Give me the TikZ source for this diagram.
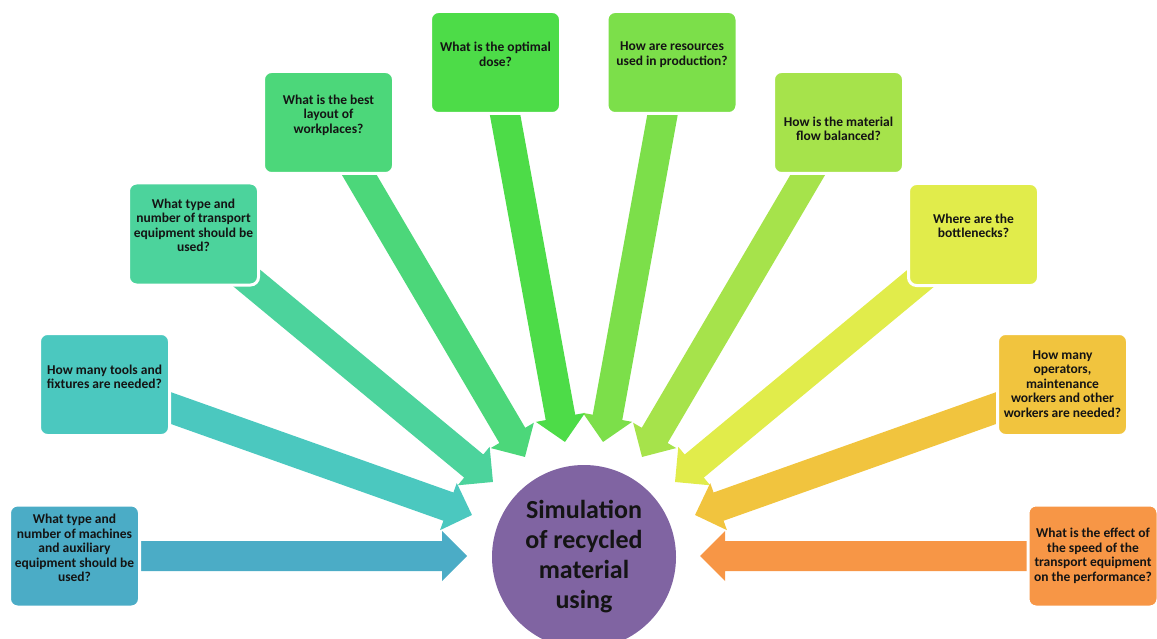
\documentclass[tikz,border=0pt]{standalone}
\usepackage{fontspec}
\setmainfont{Carlito}
\usetikzlibrary{calc}
\pgfdeclarelayer{bg}
\pgfsetlayers{bg,main}
\definecolor{cA}{HTML}{4BACC6}
\definecolor{cB}{HTML}{4BC8BF}
\definecolor{cC}{HTML}{4CD39C}
\definecolor{cD}{HTML}{4CD77A}
\definecolor{cE}{HTML}{4DDC48}
\definecolor{cF}{HTML}{7CDF4A}
\definecolor{cG}{HTML}{A6E34B}
\definecolor{cH}{HTML}{E1EC4B}
\definecolor{cI}{HTML}{F1C43E}
\definecolor{cJ}{HTML}{F79646}
\definecolor{cK}{HTML}{8064A2}
\definecolor{txt}{HTML}{141414}
\tikzset{
  qbox/.style={rectangle, rounded corners=8pt, draw=white, line width=3pt,
    minimum width=130pt, minimum height=102pt, inner sep=0pt, fill=#1},
  qtext/.style={align=center, text=txt, inner sep=0pt,
    font=\bfseries\fontsize{13.5}{14.5}\selectfont},
  hub/.style={circle, fill=cK, minimum size=184pt, inner sep=0pt, align=center,
    text=txt, font=\bfseries\fontsize{26}{30}\selectfont}
}
\newcommand\blockarrow[3]{%
  \path let \p1=($(#3)-(#2)$) in \pgfextra{%
    \pgfmathsetmacro\baAng{atan2(\y1,\x1)}%
    \pgfmathsetmacro\baLen{veclen(\x1,\y1)}%
    \global\let\baAngG\baAng \global\let\baLenG\baLen};
  \fill[#1,shift={(#2)},rotate=\baAngG] (0,-15) -- (\baLenG-25,-15) -- (\baLenG-25,-25)
    -- (\baLenG,0) -- (\baLenG-25,25) -- (\baLenG-25,15) -- (0,15) -- cycle;}
\begin{document}
\begin{tikzpicture}[x=1pt,y=-1pt]
\useasboundingbox (0,0) rectangle (1157,639);
\clip (0,0) rectangle (1157,639);
% boxes
\node[qbox=cA] (b1) at (74.5,556) {};
\node[qbox=cB] (b2) at (104.5,384.5) {};
\node[qbox=cC] (b3) at (193.5,234) {};
\node[qbox=cD] (b4) at (328.5,122.5) {};
\node[qbox=cE] (b5) at (495.5,62.5) {};
\node[qbox=cF] (b6) at (672,62.5) {};
\node[qbox=cG] (b7) at (838.5,122.5) {};
\node[qbox=cH] (b8) at (973.5,234.5) {};
\node[qbox=cI] (b9) at (1062.5,384.5) {};
\node[qbox=cJ] (b10) at (1093,556) {};
% texts
\node[qtext] (q1) at (74.5,548) {What type and\\number of machines\\and auxiliary\\equipment should be\\used?};
\node[qtext] (q2) at (104.5,377) {How many tools and\\fixtures are needed?};
\node[qtext] (q3) at (193.5,225.5) {What type and\\number of transport\\equipment should be\\used?};
\node[qtext] (q4) at (328.5,115) {What is the best\\layout of\\workplaces?};
\node[qtext] (q5) at (495.5,54.5) {What is the optimal\\dose?};
\node[qtext] (q6) at (672,54.5) {How are resources\\used in production?};
\node[qtext] (q7) at (838.5,129) {How is the material\\flow balanced?};
\node[qtext] (q8) at (973.5,226) {Where are the\\bottlenecks?};
\node[qtext] (q9) at (1062.5,384) {How many\\operators,\\maintenance\\workers and other\\workers are needed?};
\node[qtext] (q10) at (1093,556) {What is the effect of\\the speed of the\\transport equipment\\on the performance?};
% hub
\node[hub] (c) at (584,557) {Simulation\\of recycled\\material\\using};
% arrow tips
\coordinate (t1) at (467,556);
\coordinate (t2) at (472,515);
\coordinate (t3) at (493,482);
\coordinate (t4) at (525,457);
\coordinate (t5) at (565,442);
\coordinate (t6) at (603,442);
\coordinate (t7) at (642,457);
\coordinate (t8) at (675,482);
\coordinate (t9) at (695,515);
\coordinate (t10) at (700,556);
\begin{pgfonlayer}{bg}
\blockarrow{cA}{b1.center}{t1}
\blockarrow{cB}{b2.center}{t2}
\blockarrow{cC}{b3.center}{t3}
\blockarrow{cD}{b4.center}{t4}
\blockarrow{cE}{b5.center}{t5}
\blockarrow{cF}{b6.center}{t6}
\blockarrow{cG}{b7.center}{t7}
\blockarrow{cH}{b8.center}{t8}
\blockarrow{cI}{b9.center}{t9}
\blockarrow{cJ}{b10.center}{t10}
\end{pgfonlayer}
\end{tikzpicture}
\end{document}
